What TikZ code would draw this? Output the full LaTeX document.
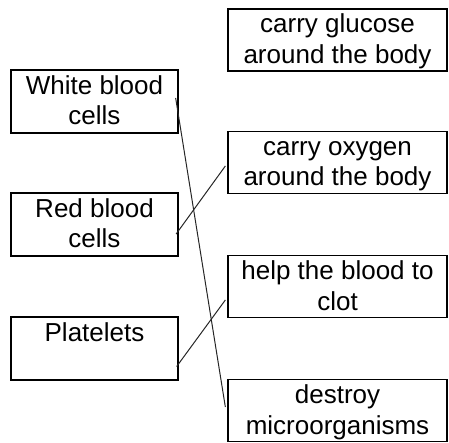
\documentclass[tikz,border=0pt]{standalone}
\usepackage{fontspec}
\setmainfont{Liberation Sans}
\newcommand\toprl{\rule{0pt}{22pt}}
\newcommand\botrl{\rule[-5.5pt]{0pt}{5.5pt}}
\begin{document}
\begin{tikzpicture}[x=1pt,y=-1pt,
  box/.style={draw=black,line width=1.3pt,rectangle,inner sep=0pt,align=center,
    font=\fontsize{26}{30.5}\selectfont},
  leftbox/.style={box,minimum width=167pt,minimum height=63pt},
  rightbox/.style={box,minimum width=219pt,minimum height=62pt},
  link/.style={draw=black!85,line width=1pt}]
\useasboundingbox (0,0) rectangle (449,443);
% right column
\node[rightbox] (glu) at (337.5,40) {\toprl carry glucose\\around the body\botrl};
\node[rightbox] (oxy) at (337.5,162.5) {\toprl carry oxygen\\around the body\botrl};
\node[rightbox] (clot) at (337.5,286.5) {\toprl help the blood to\\clot\botrl};
\node[rightbox] (des) at (337.5,410.5) {\toprl destroy\\microorganisms\botrl};
% left column
\node[leftbox] (wbc) at (94.5,101.5) {\toprl White blood\\cells\botrl};
\node[leftbox] (rbc) at (94.5,224.5) {\toprl Red blood\\cells\botrl};
\node[leftbox] (plt) at (94.5,348.5) {\toprl Platelets\\\botrl};
% connectors
\draw[link] ([xshift=-3pt,yshift=3.5pt]wbc.east) -- ([xshift=-2pt,yshift=3.5pt]des.west);
\draw[link] ([xshift=-2.5pt,yshift=-9.5pt]rbc.east) -- ([xshift=-2pt,yshift=-3.5pt]oxy.west);
\draw[link] ([xshift=-2pt,yshift=-18pt]plt.east) -- ([xshift=-2pt,yshift=-13.5pt]clot.west);
\end{tikzpicture}
\end{document}
